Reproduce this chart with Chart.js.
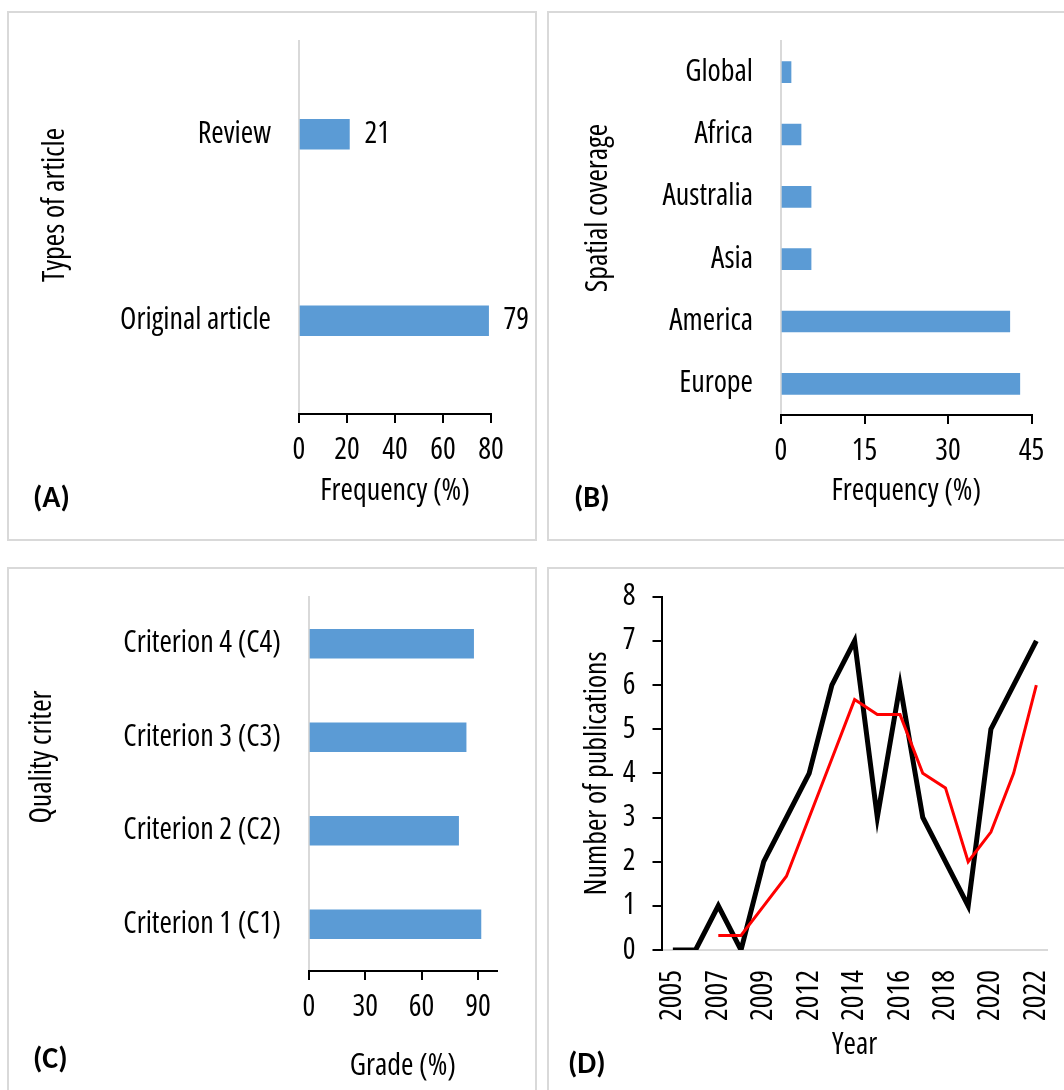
<!DOCTYPE html>
<html>
<head>
<meta charset="utf-8">
<script src="https://cdn.jsdelivr.net/npm/chart.js@4.4.1/dist/chart.umd.min.js"></script>
<style>
  html, body { margin: 0; padding: 0; background: #fff; overflow: hidden; width: 1064px; height: 1090px; }
  .panel { position: absolute; border: 2px solid #d9d9d9; box-sizing: border-box; background: #fff; }
  .panel canvas { display: block; }
</style>
</head>
<body>
<div class="panel" style="left:7px;top:11px;width:530px;height:530px"><canvas id="chartA" width="526" height="526"></canvas></div>
<div class="panel" style="left:547px;top:11px;width:521px;height:530px"><canvas id="chartB" width="517" height="526"></canvas></div>
<div class="panel" style="left:7px;top:567px;width:530px;height:525px"><canvas id="chartC" width="526" height="521"></canvas></div>
<div class="panel" style="left:547px;top:567px;width:521px;height:525px"><canvas id="chartD" width="517" height="521"></canvas></div>
<script>
// (A) types of article, % of reviewed papers
const articleTypes = ['Review', 'Original article'];
const articleShare = [21, 79];
const articleTicks = [0, 20, 40, 60, 80];

// (B) spatial coverage, % of reviewed papers
const regions = ['Global', 'Africa', 'Australia', 'Asia', 'America', 'Europe'];
const regionShare = [1.8, 3.6, 5.4, 5.4, 41.1, 42.9];
const regionTicks = [0, 15, 30, 45];

// (C) quality criteria, grade in %
const criteria = ['Criterion 4 (C4)', 'Criterion 3 (C3)', 'Criterion 2 (C2)', 'Criterion 1 (C1)'];
const criteriaGrade = [87.7, 83.7, 79.7, 91.6];
const gradeTicks = [0, 30, 60, 90];

// (D) publications per year and their 3-year moving average
const years = ['2005', '2006', '2007', '2008', '2009', '2011', '2012', '2013', '2014',
               '2015', '2016', '2017', '2018', '2019', '2020', '2021', '2022'];
const publications = [0, 0, 1, 0, 2, 3, 4, 6, 7, 3, 6, 3, 2, 1, 5, 6, 7];
const movingAverage = [null, null, 0.33, 0.33, 1, 1.67, 3, 4.33, 5.67, 5.33, 5.33, 4, 3.67, 2, 2.67, 4, 6];
const yearTicks = ['2005', '2007', '2009', '2012', '2014', '2016', '2018', '2020', '2022'];
const publicationTicks = [0, 1, 2, 3, 4, 5, 6, 7, 8];

// Narrow sans-serif: the condensed width of the variable Open Sans face
const FAMILY = "'Open Sans', 'Liberation Sans', sans-serif";
const STRETCH = 'condensed';
const SIZE = 30;
const TEXT_FONT = `${STRETCH} ${SIZE}px ${FAMILY}`;
const TAG_FONT = "bold 30px Carlito, Calibri, Lato, 'Liberation Sans', sans-serif";
const BAR_BLUE = '#5b9bd5';

Chart.defaults.font.family = FAMILY;
Chart.defaults.font.size = SIZE;
Chart.defaults.font.weight = STRETCH;   // ends up in the canvas font shorthand as font-stretch
Chart.defaults.color = '#000';
Chart.defaults.animation = false;
Chart.defaults.plugins.legend.display = false;
Chart.defaults.plugins.tooltip.enabled = false;

// Free-standing texts: rotated axis titles and panel tags
const notes = {
  id: 'notes',
  afterDraw(chart, args, opts) {
    const ctx = chart.ctx;
    (opts.items || []).forEach(it => {
      ctx.save();
      ctx.font = it.font || TEXT_FONT;
      ctx.fillStyle = '#000';
      ctx.textAlign = it.align || 'center';
      ctx.textBaseline = 'middle';
      ctx.translate(it.x, it.y);
      if (it.rotate) ctx.rotate(-Math.PI / 2);
      ctx.fillText(it.text, 0, 0);
      ctx.restore();
    });
  }
};

// Value labels printed after the end of each bar
const barValues = {
  id: 'barValues',
  afterDatasetsDraw(chart, args, opts) {
    if (!opts.show) return;
    const ctx = chart.ctx;
    const ds = chart.data.datasets[0];
    ctx.save();
    ctx.font = TEXT_FONT;
    ctx.fillStyle = '#000';
    ctx.textAlign = 'left';
    ctx.textBaseline = 'middle';
    chart.getDatasetMeta(0).data.forEach((bar, i) => {
      ctx.fillText(String(ds.data[i]), bar.x + opts.gap, bar.y);
    });
    ctx.restore();
  }
};

// Canvas origin/size and plot-area edges in page pixels -> padding and axis sizes
function frame(panel, plot) {
  return {
    ox: panel.x, oy: panel.y,
    padding: { left: 0, top: plot.top - panel.y, right: panel.x + panel.w - plot.right, bottom: 0 },
    leftW: plot.left - panel.x,
    bottomH: panel.y + panel.h - plot.bottom
  };
}

// Fixed axis box size; label overhang is already covered by the layout padding
function fixBox(s, size) {
  if (s.isHorizontal()) s.height = size; else s.width = size;
  s.paddingTop = 0; s.paddingBottom = 0; s.paddingLeft = 0; s.paddingRight = 0;
}

function barPanel(cfg) {
  const f = frame(cfg.panel, cfg.plot);
  const items = cfg.notes.map(n => Object.assign({}, n, { x: n.x - f.ox, y: n.y - f.oy }));
  return new Chart(document.getElementById(cfg.id), {
    type: 'bar',
    data: {
      labels: cfg.labels,
      datasets: [{
        data: cfg.values,
        backgroundColor: BAR_BLUE,
        borderWidth: 0,
        barThickness: cfg.thickness
      }]
    },
    options: {
      responsive: false,
      indexAxis: 'y',
      layout: { padding: f.padding },
      scales: {
        y: {
          type: 'category',
          grid: { display: false, drawTicks: false },
          border: { color: '#d9d9d9', width: 2 },
          ticks: { padding: 28 },
          afterFit(s) { fixBox(s, f.leftW); }
        },
        x: {
          type: 'linear',
          min: 0,
          max: cfg.max,
          grid: { drawOnChartArea: false, drawTicks: true, tickLength: 9, color: '#000', lineWidth: 2 },
          border: { color: '#000', width: 2 },
          ticks: { padding: 9, autoSkip: false, maxRotation: 0 },
          afterBuildTicks(s) { s.ticks = cfg.ticks.map(v => ({ value: v })); },
          title: { display: true, text: cfg.xTitle, padding: { top: 0, bottom: cfg.xTitlePad } },
          afterFit(s) { fixBox(s, f.bottomH); }
        }
      },
      plugins: {
        notes: { items },
        barValues: { show: !!cfg.showValues, gap: 15 }
      }
    },
    plugins: [notes, barValues]
  });
}

barPanel({
  id: 'chartA',
  panel: { x: 9, y: 13, w: 526, h: 526 },
  plot: { left: 299, top: 41, right: 491, bottom: 414 },
  labels: articleTypes, values: articleShare, ticks: articleTicks, max: 80,
  thickness: 30, xTitle: 'Frequency (%)', xTitlePad: 30, showValues: true,
  notes: [
    { text: 'Types of article', x: 55, y: 205, rotate: true },
    { text: '(A)', x: 33, y: 499, align: 'left', font: TAG_FONT }
  ]
});

barPanel({
  id: 'chartB',
  panel: { x: 549, y: 13, w: 517, h: 526 },
  plot: { left: 781, top: 41, right: 1031.5, bottom: 415 },
  labels: regions, values: regionShare, ticks: regionTicks, max: 45,
  thickness: 21, xTitle: 'Frequency (%)', xTitlePad: 30,
  notes: [
    { text: 'Spatial coverage', x: 598, y: 208, rotate: true },
    { text: '(B)', x: 574, y: 499, align: 'left', font: TAG_FONT }
  ]
});

barPanel({
  id: 'chartC',
  panel: { x: 9, y: 569, w: 526, h: 521 },
  plot: { left: 309, top: 597, right: 496.7, bottom: 971 },
  labels: criteria, values: criteriaGrade, ticks: gradeTicks, max: 100,
  thickness: 29, xTitle: 'Grade (%)', xTitlePad: 6,
  notes: [
    { text: 'Quality criter', x: 42, y: 757, rotate: true },
    { text: '(C)', x: 33, y: 1060, align: 'left', font: TAG_FONT }
  ]
});

// (D) line chart
(function () {
  const f = frame({ x: 549, y: 569, w: 517, h: 521 }, { left: 661.5, top: 596.7, right: 1047.7, bottom: 950 });
  new Chart(document.getElementById('chartD'), {
    type: 'line',
    data: {
      labels: years,
      datasets: [
        { data: movingAverage, borderColor: '#ff0000', borderWidth: 3, pointRadius: 0, tension: 0,
          fill: false, order: 0, borderJoinStyle: 'miter' },
        { data: publications, borderColor: '#000000', borderWidth: 5, pointRadius: 0, tension: 0,
          fill: false, order: 1, borderJoinStyle: 'miter' }
      ]
    },
    options: {
      responsive: false,
      layout: { padding: f.padding },
      scales: {
        x: {
          type: 'category',
          offset: true,
          grid: { display: false, drawTicks: false },
          border: { color: '#d9d9d9', width: 2 },
          ticks: {
            autoSkip: false, minRotation: 90, maxRotation: 90, padding: 20,
            callback(v) { const l = this.getLabelForValue(v); return yearTicks.includes(l) ? l : ''; }
          },
          title: { display: true, text: 'Year', padding: { top: 0, bottom: 27 } },
          afterFit(s) { fixBox(s, f.bottomH); }
        },
        y: {
          min: 0, max: 8,
          grid: { drawOnChartArea: false, drawTicks: true, tickLength: 9, color: '#000', lineWidth: 2 },
          border: { color: '#000', width: 2 },
          ticks: { padding: 17 },
          afterBuildTicks(s) { s.ticks = publicationTicks.map(v => ({ value: v })); },
          title: { display: true, text: 'Number of publications', padding: { top: 30, bottom: 0 } },
          afterFit(s) { fixBox(s, f.leftW); }
        }
      },
      plugins: {
        notes: { items: [{ text: '(D)', x: 568 - f.ox, y: 1065 - f.oy, align: 'left', font: TAG_FONT }] }
      }
    },
    plugins: [notes]
  });
})();
</script>
</body>
</html>
